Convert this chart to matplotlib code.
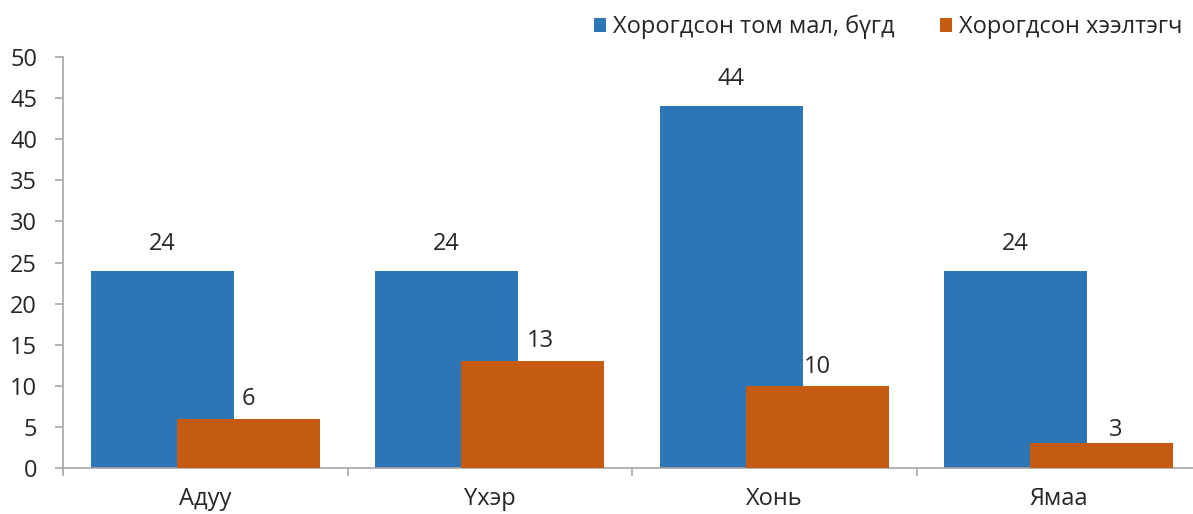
import matplotlib.pyplot as plt
import numpy as np

plt.rcParams['font.family'] = ['Open Sans', 'DejaVu Sans']

# Data
categories = ['Адуу', 'Үхэр', 'Хонь', 'Ямаа']
total_dead = [24, 24, 44, 24]
young_dead = [6, 13, 10, 3]
series_names = ['Хорогдсон том мал, бүгд', 'Хорогдсон хээлтэгч']

# label nudges in pixels (labels were moved by hand in the original)
total_dy = [27, 27, 27, 27]
young_dx = [0, 8, 0, 14]
young_dy = [20, 20, 19, 13]

blue = '#2E75B6'
orange = '#C55A11'
grey = '#A6A6A6'
txt = '#262626'
fs = 17
px = 72 / 100  # pixels -> points

fig = plt.figure(figsize=(11.93, 5.14), dpi=100)
ax = fig.add_axes([63 / 1193, 46 / 514, 1138 / 1193, 411 / 514])

x = np.arange(len(categories))
width = 0.503
off = 0.151

b1 = ax.bar(x - off, total_dead, width, color=blue, label=series_names[0], zorder=2)
b2 = ax.bar(x + off, young_dead, width, color=orange, label=series_names[1], zorder=3)

for r, v, dy in zip(b1, total_dead, total_dy):
    ax.annotate(str(v), (r.get_x() + r.get_width() / 2, v), xytext=(0, dy * px),
                textcoords='offset points', ha='center', va='center',
                fontsize=fs, color=txt)
for r, v, dx, dy in zip(b2, young_dead, young_dx, young_dy):
    ax.annotate(str(v), (r.get_x() + r.get_width() / 2, v), xytext=(dx * px, dy * px),
                textcoords='offset points', ha='center', va='center',
                fontsize=fs, color=txt)

ax.set_xlim(-0.5, len(categories) - 0.5)
ax.set_ylim(0, 50)
ax.set_yticks(np.arange(0, 51, 5))

# category labels at centres, tick marks at boundaries
ax.set_xticks(np.arange(-0.5, len(categories), 1.0))
ax.set_xticklabels([])
ax.set_xticks(x, minor=True)
ax.set_xticklabels(categories, minor=True)
ax.tick_params(axis='x', which='minor', length=0, labelsize=fs, pad=14, labelcolor=txt)
ax.tick_params(axis='x', which='major', length=8 * px, color=grey, width=1.2)
ax.tick_params(axis='y', length=8 * px, color=grey, width=1.2, labelsize=fs,
               labelcolor=txt, pad=18 * px)

for s in ('top', 'right'):
    ax.spines[s].set_visible(False)
for s in ('left', 'bottom'):
    ax.spines[s].set_color(grey)
    ax.spines[s].set_linewidth(1.2)

fig.legend(loc='center right', bbox_to_anchor=(1182 / 1193, 1 - 27 / 514), ncol=2,
           frameon=False, fontsize=fs, handlelength=0.5, handleheight=0.5,
           handletextpad=0.3, columnspacing=1.9, borderaxespad=0, borderpad=0,
           labelcolor=txt)

fig.savefig('out.png', dpi=100)
